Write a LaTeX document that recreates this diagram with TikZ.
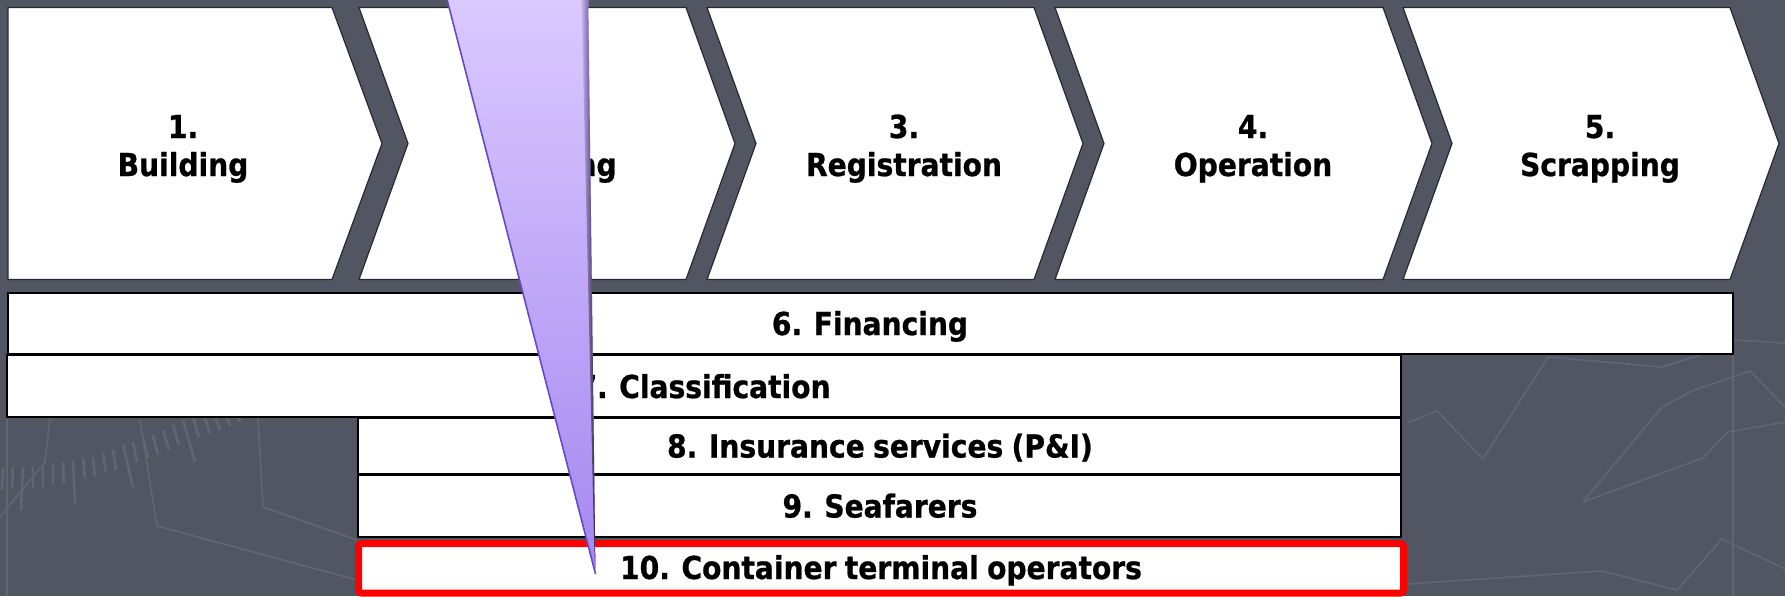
\documentclass[tikz,border=0pt]{standalone}
\usepackage{fontspec}
\newfontfamily\lblfamily{DejaVu Sans Bold}[FakeStretch=0.89, FakeBold=0.8, WordSpace=0.85]
\definecolor{bg}{RGB}{82,85,98}
\definecolor{bgline}{RGB}{97,100,114}
\definecolor{chevline}{RGB}{40,40,48}
\definecolor{cL}{RGB}{220,203,255}
\definecolor{cM}{RGB}{205,183,252}
\definecolor{cD}{RGB}{165,135,240}
\definecolor{cShadow}{RGB}{45,35,80}
\definecolor{cEdge}{RGB}{100,75,195}
\definecolor{hl}{RGB}{255,0,0}
\tikzset{
  chev/.style={fill=white, draw=chevline, line width=0.6pt},
  bar/.style={fill=white, draw=black, line width=0.6pt},
  lbl/.style={font=\lblfamily\fontsize{15.8}{19}\selectfont, inner sep=0pt, text=black},
  bgl/.style={draw=bgline, line width=0.85pt},
  tick/.style={draw=bgline, line width=1.4pt},
}
\begin{document}
\begin{tikzpicture}[x=0.5pt,y=-0.5pt]
\fill[bg] (0,0) rectangle (1785,596);
\useasboundingbox (0,0) rectangle (1785,596);
\clip (0,0) rectangle (1785,596);

% background decoration
\draw[bgl] (0,517) -- (45,462) -- (50,418);
\draw[bgl] (140,420) -- (157,526) -- (357,580);
\draw[bgl] (258,418) -- (263,507) -- (357,540);
\draw[bgl] (7,417) -- (7,596);
\draw[bgl] (1733,354) -- (1733,596);
\draw[bgl] (1407,423) -- (1437,411) -- (1483,459) -- (1548,357) -- (1662,367) -- (1700,355);
\draw[bgl] (1733,340) -- (1785,343);
\draw[bgl] (1583,502) -- (1662,407) -- (1692,391) -- (1750,371) -- (1785,407);
\draw[bgl] (1583,502) -- (1703,458) -- (1728,432) -- (1785,422);
\draw[bgl] (1407,584) -- (1602,571) -- (1677,590) -- (1722,539) -- (1785,569);
\foreach \x/\y/\l/\d in {3/468/22/-1, 13/467/22/-1, 23/467/43/-2, 33/467/22/0, 43/465/22/0,
  53/463/22/0, 63/462/22/1, 73/461/43/2, 83/458/20/2, 93/457/20/2, 103/453/20/3, 113/450/20/3,
  123/445/42/10, 133/442/20/4, 143/438/20/5, 153/435/20/5, 163/430/20/6, 173/425/20/6,
  183/420/42/12, 193/417/20/6, 203/413/20/7, 213/410/20/7, 223/406/20/7, 233/402/20/7}
  \draw[tick] (\x,\y) -- ++(\d,\l);

% chevrons
\draw[chev] (8,7.5) -- (332,7.5) -- (382,143.5) -- (332,279.5) -- (8,279.5) -- cycle;
\foreach \L/\R in {359/686, 707/1034, 1055/1383, 1403/1730}
  \draw[chev] (\L,7.5) -- (\R,7.5) -- (\R+49,143.5) -- (\R,279.5) -- (\L,279.5) -- (\L+49,143.5) -- cycle;

\node[lbl, anchor=base] (n1) at (183,138) {1.};
\node[lbl, anchor=base] (w1) at (183,176) {Building};
\node[lbl, anchor=base] (n2) at (557,138) {2.};
\node[lbl, anchor=base east] (w2) at (617,176) {Owning};
\node[lbl, anchor=base] (n3) at (904,138) {3.};
\node[lbl, anchor=base] (w3) at (904,176) {Registration};
\node[lbl, anchor=base] (n4) at (1253,138) {4.};
\node[lbl, anchor=base] (w4) at (1253,176) {Operation};
\node[lbl, anchor=base] (n5) at (1600,138) {5.};
\node[lbl, anchor=base] (w5) at (1600,176) {Scrapping};

% bars
\draw[bar] (8,293) rectangle (1733,354);
\draw[bar] (7,355) rectangle (1401,417);
\draw[bar] (358,418) rectangle (1401,474);
\draw[bar] (358,475) rectangle (1401,537);
\draw[fill=white, draw=hl, line width=3.5pt, rounded corners=1.5pt] (358.5,543.5) rectangle (1403.5,593);

\node[lbl, anchor=base] (b6) at (870,335) {6. Financing};
\node[lbl, anchor=base] (b7) at (704,398) {7. Classification};
\node[lbl, anchor=base] (b8) at (880,457.5) {8. Insurance services (P\&I)};
\node[lbl, anchor=base] (b9) at (880,517.5) {9. Seafarers};
\node[lbl, anchor=base] (b10) at (881,579) {10. Container terminal operators};

% callout pointer
\shade[top color=cL, middle color=cM, bottom color=cD] (442,-20) -- (588,-20) -- (595.5,574) -- cycle;
\shade[left color=cM, right color=cShadow] (581,-20) -- (588,-20) -- (595.5,574) -- (594,540) -- cycle;
\draw[cEdge, line width=0.8pt] (442,-20) -- (595.5,574);
\end{tikzpicture}
\end{document}
